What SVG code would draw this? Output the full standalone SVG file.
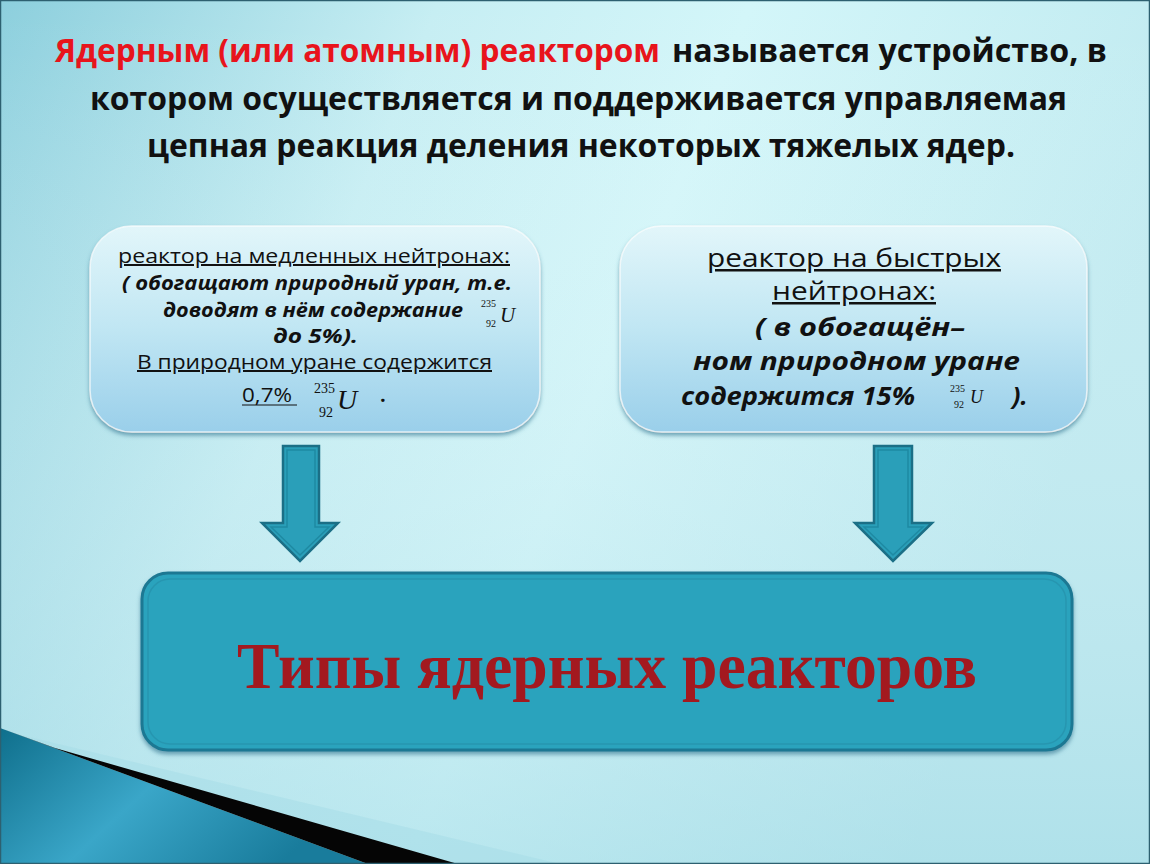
<svg xmlns="http://www.w3.org/2000/svg" width="1150" height="864" viewBox="0 0 1150 864">
<defs>
<linearGradient id="bg" x1="0" y1="0" x2="1" y2="0.3">
<stop offset="0" stop-color="#8ccfdd"/>
<stop offset="0.35" stop-color="#c6eef3"/>
<stop offset="0.6" stop-color="#d3f6f9"/>
<stop offset="1" stop-color="#bfeaf0"/>
</linearGradient>
<linearGradient id="bgv" x1="0" y1="0" x2="0" y2="1">
<stop offset="0" stop-color="#ffffff" stop-opacity="0"/>
<stop offset="1" stop-color="#9fd8e4" stop-opacity="0.5"/>
</linearGradient>
<linearGradient id="boxg" x1="0" y1="0" x2="0" y2="1">
<stop offset="0" stop-color="#e2f6fa"/>
<stop offset="0.5" stop-color="#c0e6f3"/>
<stop offset="1" stop-color="#9acfea"/>
</linearGradient>
<linearGradient id="wedge" x1="0" y1="0" x2="1" y2="0.4">
<stop offset="0" stop-color="#0f6f8c"/>
<stop offset="0.5" stop-color="#3aa6c8"/>
<stop offset="1" stop-color="#197c9c"/>
</linearGradient>
<filter id="sh" x="-10%" y="-10%" width="120%" height="130%">
<feDropShadow dx="0" dy="3" stdDeviation="2" flood-color="#3f7f98" flood-opacity="0.7"/>
</filter>
<style>
.t{font-family:"Open Sans","DejaVu Sans",sans-serif;font-weight:bold;font-size:32px}
.b{font-family:"Open Sans","DejaVu Sans",sans-serif;font-size:20px;fill:#111}
.bi{font-family:"Open Sans","DejaVu Sans",sans-serif;font-size:20px;font-style:italic;font-weight:bold;fill:#111}
.r{font-family:"Open Sans","DejaVu Sans",sans-serif;font-size:25px;fill:#111}
.ri{font-family:"Open Sans","DejaVu Sans",sans-serif;font-size:25px;font-style:italic;font-weight:bold;fill:#111}
.n{font-family:"Liberation Serif",serif;fill:#111}
.box{fill:url(#boxg);stroke:#ffffff;stroke-opacity:0.7;stroke-width:1.5}
.arrow{fill:#2a9fb9;stroke:#1b6f86;stroke-width:2.5}
.arrowin{fill:none;stroke:#1e8aa3;stroke-width:1.5}
</style>
</defs>
<rect x="0" y="0" width="1150" height="864" fill="url(#bg)"/>
<rect x="0" y="0" width="1150" height="864" fill="url(#bgv)"/>
<polygon points="0,730 0,864 560,864" fill="#a8dde7" opacity="0.6"/>
<polygon points="0,728 0,864 368,864" fill="url(#wedge)"/>
<polygon points="55,748 458,864 368,864 0,728" fill="#050505"/>
<rect x="0.5" y="0.5" width="1149" height="863" fill="none" stroke="#2d6070" stroke-width="1.5"/>

<g id="title">
<text class="t" x="55" y="62" fill="#e8141c" textLength="605" lengthAdjust="spacingAndGlyphs">Ядерным (или атомным) реактором</text>
<text class="t" x="672" y="62" fill="#111" textLength="435" lengthAdjust="spacingAndGlyphs">называется устройство, в</text>
<text class="t" x="90" y="110" fill="#111" textLength="977" lengthAdjust="spacingAndGlyphs">котором осуществляется и поддерживается управляемая</text>
<text class="t" x="147" y="157" fill="#111" textLength="868" lengthAdjust="spacingAndGlyphs">цепная реакция деления некоторых тяжелых ядер.</text>
</g>

<g id="slow">
<rect class="box" x="90" y="226" width="450" height="206" rx="42" filter="url(#sh)"/>
<text class="b" x="118" y="263" textLength="392" lengthAdjust="spacingAndGlyphs" text-decoration="underline">реактор на медленных нейтронах:</text>
<text class="bi" x="122" y="290" textLength="390" lengthAdjust="spacingAndGlyphs">( обогащают природный уран, т.е.</text>
<text class="bi" x="163" y="317" textLength="300" lengthAdjust="spacingAndGlyphs">доводят в нём содержание</text>
<text class="n" x="496" y="307" font-size="10" text-anchor="end">235</text>
<text class="n" x="496" y="327" font-size="10" text-anchor="end">92</text>
<text class="n" x="500" y="322" font-size="21" font-style="italic">U</text>
<text class="bi" x="273" y="343" textLength="85" lengthAdjust="spacingAndGlyphs">до 5%).</text>
<text class="b" x="137" y="369" textLength="355" lengthAdjust="spacingAndGlyphs" text-decoration="underline">В природном уране содержится</text>
<text class="b" x="242" y="402" textLength="50" lengthAdjust="spacingAndGlyphs">0,7%</text>
<line x1="242" y1="405" x2="297" y2="405" stroke="#111" stroke-width="1.2"/>
<text class="n" x="335" y="393" font-size="14" text-anchor="end">235</text>
<text class="n" x="333" y="417" font-size="14" text-anchor="end">92</text>
<text class="n" x="337" y="409" font-size="28" font-style="italic">U</text>
<text class="b" x="380" y="402" font-weight="bold">.</text>
</g>

<g id="fast">
<rect class="box" x="620" y="226" width="467" height="206" rx="42" filter="url(#sh)"/>
<text class="r" x="707" y="267" textLength="294" lengthAdjust="spacingAndGlyphs" text-decoration="underline">реактор на быстрых</text>
<text class="r" x="772" y="300" textLength="164" lengthAdjust="spacingAndGlyphs" text-decoration="underline">нейтронах:</text>
<text class="ri" x="755" y="336" textLength="210" lengthAdjust="spacingAndGlyphs">( в обогащён–</text>
<text class="ri" x="693" y="370" textLength="327" lengthAdjust="spacingAndGlyphs">ном природном уране</text>
<text class="ri" x="681" y="405" textLength="234" lengthAdjust="spacingAndGlyphs">содержится 15%</text>
<text class="n" x="965" y="392" font-size="10" text-anchor="end">235</text>
<text class="n" x="964" y="408" font-size="10" text-anchor="end">92</text>
<text class="n" x="970" y="403" font-size="18" font-style="italic">U</text>
<text class="ri" x="1012" y="405">).</text>
</g>

<g id="connectors">
<polygon class="arrow" points="283,446 319,446 319,523 338,523 300,561 262,523 283,523"/>
<polygon class="arrowin" points="287,450 315,450 315,527 329,527 300,555 271,527 287,527"/>
<polygon class="arrow" points="874,446 912,446 912,523 932,523 893,561 855,523 874,523"/>
<polygon class="arrowin" points="878,450 908,450 908,527 923,527 893,555 864,527 878,527"/>
</g>

<g id="types">
<rect x="142" y="573" width="930" height="177" rx="26" fill="#2ba3bd" stroke="#1d7893" stroke-width="3" filter="url(#sh)"/>
<rect x="148" y="579" width="918" height="165" rx="22" fill="none" stroke="#2796b0" stroke-width="1.5"/>
<text x="237" y="688" font-family="'Liberation Serif',serif" font-weight="bold" font-size="66" fill="#a3191f" textLength="740" lengthAdjust="spacingAndGlyphs">Типы ядерных реакторов</text>
</g>
</svg>
